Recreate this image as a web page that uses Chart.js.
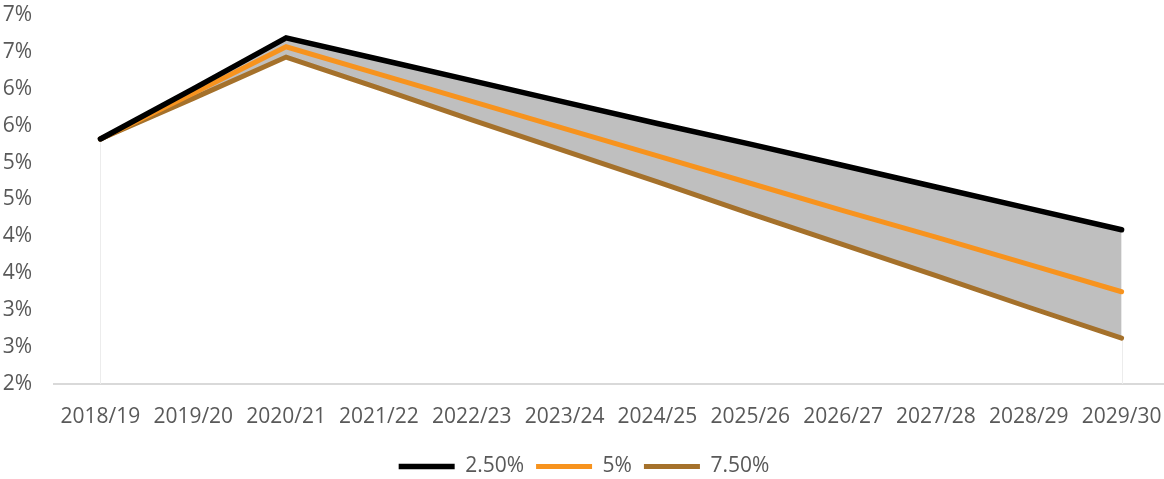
<!DOCTYPE html>
<html>
<head>
<meta charset="utf-8">
<script src="https://cdn.jsdelivr.net/npm/chart.js@4/dist/chart.umd.min.js"></script>
<style>
  html, body { margin: 0; padding: 0; background: #fff; overflow: hidden; }
  #wrap { width: 1168px; height: 487px; position: relative; }
</style>
</head>
<body>
<div id="wrap"><canvas id="grafica"></canvas></div>
<script>
// Datos
var years = ['2018/19', '2019/20', '2020/21', '2021/22', '2022/23', '2023/24',
             '2024/25', '2025/26', '2026/27', '2027/28', '2028/29', '2029/30'];
var serie250 = [5.32, 6.00, 6.69, 6.40, 6.11, 5.82, 5.53, 5.25, 4.96, 4.67, 4.38, 4.09];
var serie5   = [5.32, 5.94, 6.57, 6.20, 5.83, 5.46, 5.09, 4.72, 4.35, 3.99, 3.62, 3.25];
var serie750 = [5.32, 5.87, 6.43, 6.01, 5.58, 5.16, 4.74, 4.31, 3.89, 3.47, 3.04, 2.62];
var yTickLabels = ['2%', '3%', '3%', '4%', '4%', '5%', '5%', '6%', '6%', '7%', '7%'];

var gris = '#595959';

// Líneas verticales tenues en los extremos del área
var bordesArea = {
    id: 'bordesArea',
    beforeDatasetsDraw: function(chart) {
        var ctx = chart.ctx;
        var x = chart.scales.x, y = chart.scales.y;
        ctx.save();
        ctx.strokeStyle = '#ececec';
        ctx.lineWidth = 1;
        [0, years.length - 1].forEach(function(i) {
            var px = Math.round(x.getPixelForValue(i)) + 0.5;
            ctx.beginPath();
            ctx.moveTo(px, y.getPixelForValue(serie750[i]));
            ctx.lineTo(px, y.bottom);
            ctx.stroke();
        });
        ctx.restore();
    }
};

var ctx = document.getElementById('grafica').getContext('2d');
var myChart = new Chart(ctx, {
    type: 'line',
    data: {
        labels: years,
        datasets: [{
            label: '2.50%',
            data: serie250,
            borderColor: '#000000',
            backgroundColor: '#bfbfbf',
            borderWidth: 5.5,
            borderCapStyle: 'round',
            fill: { target: 2 },
            pointRadius: 0,
            tension: 0
        }, {
            label: '5%',
            data: serie5,
            borderColor: '#f7931e',
            backgroundColor: '#f7931e',
            borderWidth: 5,
            borderCapStyle: 'round',
            fill: false,
            pointRadius: 0,
            tension: 0
        }, {
            label: '7.50%',
            data: serie750,
            borderColor: '#a5712b',
            backgroundColor: '#a5712b',
            borderWidth: 5,
            borderCapStyle: 'round',
            fill: false,
            pointRadius: 0,
            tension: 0
        }]
    },
    options: {
        responsive: true,
        maintainAspectRatio: false,
        animation: false,
        layout: { padding: { top: 15, left: 0, right: 0, bottom: 0 } },
        scales: {
            x: {
                offset: true,
                grid: { display: false, drawTicks: false },
                border: { display: true, color: '#d9d9d9', width: 2 },
                ticks: {
                    color: gris,
                    padding: 20,
                    maxRotation: 0,
                    autoSkip: false,
                    font: { family: '"Open Sans"', size: 21 }
                },
                afterFit: function(scale) {
                    scale.height = 60;
                    scale.paddingLeft = 0;
                    scale.paddingRight = 0;
                }
            },
            y: {
                min: 2,
                max: 7,
                grid: { display: false, drawTicks: false },
                border: { display: false },
                ticks: {
                    stepSize: 0.5,
                    color: gris,
                    padding: 22,
                    font: { family: '"Open Sans"', size: 21 },
                    callback: function(value, index) { return yTickLabels[index]; }
                },
                afterFit: function(scale) {
                    scale.width = 54;
                    scale.paddingTop = 0;
                    scale.paddingBottom = 0;
                }
            }
        },
        plugins: {
            filler: { drawTime: 'beforeDatasetsDraw' },
            tooltip: { enabled: false },
            legend: {
                position: 'bottom',
                labels: {
                    usePointStyle: true,
                    pointStyle: 'line',
                    pointStyleWidth: 56,
                    padding: 12,
                    color: gris,
                    font: { family: '"Open Sans"', size: 21 }
                }
            }
        }
    },
    plugins: [bordesArea]
});
</script>
</body>
</html>
